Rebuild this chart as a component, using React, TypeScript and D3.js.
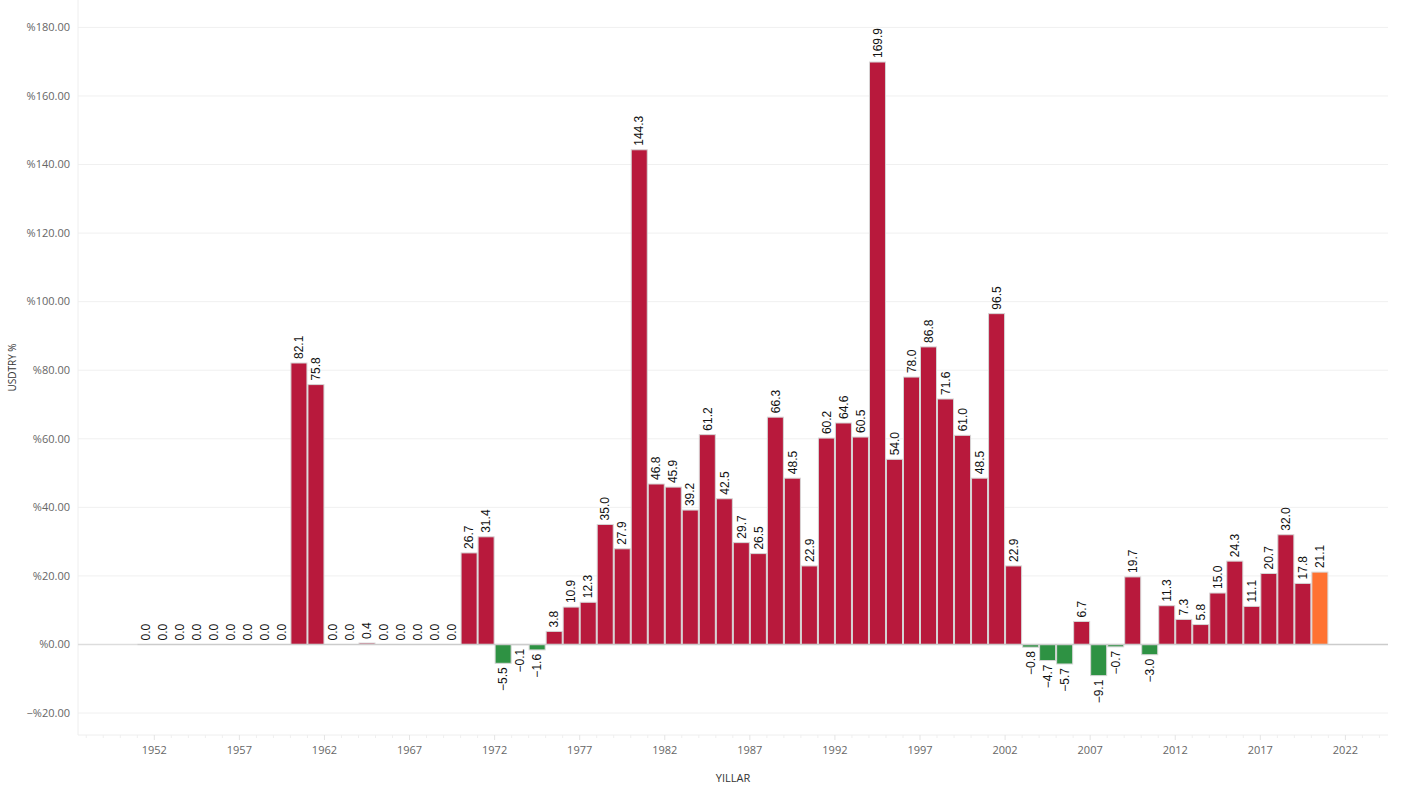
import React from "react";
import * as d3 from "d3";

const startYear = 1951;
const values: number[] = [
  0.0, 0.0, 0.0, 0.0, 0.0, 0.0, 0.0, 0.0, 0.0, // 1951-1959
  82.1, 75.8, // 1960-1961
  0.0, 0.0, 0.4, 0.0, 0.0, 0.0, 0.0, 0.0, // 1962-1969
  26.7, 31.4, -5.5, -0.1, -1.6, 3.8, 10.9, 12.3, 35.0, 27.9, // 1970-1979
  144.3, 46.8, 45.9, 39.2, 61.2, 42.5, 29.7, 26.5, 66.3, 48.5, // 1980-1989
  22.9, 60.2, 64.6, 60.5, 169.9, 54.0, 78.0, 86.8, 71.6, 61.0, // 1990-1999
  48.5, 96.5, 22.9, -0.8, -4.7, -5.7, 6.7, -9.1, -0.7, 19.7, // 2000-2009
  -3.0, 11.3, 7.3, 5.8, 15.0, 24.3, 11.1, 20.7, 32.0, 17.8, // 2010-2019
  21.1, // 2020
];
const years: number[] = values.map((_, i) => startYear + i);
const highlightYear = 2020;
const xTickYears: number[] = [1952, 1957, 1962, 1967, 1972, 1977, 1982, 1987, 1992, 1997, 2002, 2007, 2012, 2017, 2022];
const yTickValues: number[] = [-20, 0, 20, 40, 60, 80, 100, 120, 140, 160, 180];
const yAxisTitle = "USDTRY %";
const xAxisTitle = "YILLAR";

const W = 1406;
const H = 787;
const plotLeft = 78;
const plotRight = 1388;
const plotTop = 0;
const plotBottom = 735;

const RED = "#B8193C";
const GREEN = "#2E9243";
const ORANGE = "#FF7231";

export default function App() {
  const x = d3.scaleLinear().domain([1952, 2022]).range([154.3, 1345.4]);
  const y = d3.scaleLinear().domain([-20, 180]).range([713, 27.4]);
  const y0 = y(0);
  const minorYears = d3.range(1948, 2025);
  const fmtY = (v: number) => (v < 0 ? "\u2212%" + Math.abs(v).toFixed(2) : "%" + v.toFixed(2));
  const fmtV = (v: number) => (v < 0 ? "\u2212" + Math.abs(v).toFixed(1) : v.toFixed(1));

  return (
    <svg
      width={W}
      height={H}
      style={{ position: "absolute", left: 0, top: 0, display: "block", background: "#fff" }}
    >
      {/* grid */}
      {yTickValues.map((v) => (
        <line key={"g" + v} x1={plotLeft} x2={plotRight} y1={y(v)} y2={y(v)} stroke="#f0f0f0" strokeWidth={1} />
      ))}
      <line x1={plotLeft} x2={plotLeft} y1={plotTop} y2={plotBottom} stroke="#eeeeee" strokeWidth={1} />
      <line x1={plotLeft} x2={plotRight} y1={plotBottom} y2={plotBottom} stroke="#eeeeee" strokeWidth={1} />
      {/* minor ticks */}
      {minorYears.map((yr) => (
        <line key={"m" + yr} x1={x(yr)} x2={x(yr)} y1={plotBottom} y2={plotBottom + (xTickYears.includes(yr) ? 5 : 3)} stroke={xTickYears.includes(yr) ? "#e4e4e4" : "#efefef"} strokeWidth={1} />
      ))}
      {/* y tick labels */}
      {yTickValues.map((v) => (
        <text key={"yt" + v} x={70} y={y(v)} dy="0.35em" textAnchor="end" fontFamily="'Open Sans', sans-serif" fontSize={11} fill="#666">
          {fmtY(v)}
        </text>
      ))}
      {/* x tick labels */}
      {xTickYears.map((yr) => (
        <text key={"xt" + yr} x={x(yr)} y={754} textAnchor="middle" fontFamily="'Open Sans', sans-serif" fontSize={11} fill="#666">
          {yr}
        </text>
      ))}
      {/* axis titles */}
      <text transform={`translate(16, ${(plotTop + plotBottom) / 2}) rotate(-90)`} textAnchor="middle" fontFamily="'Open Sans', sans-serif" fontSize={10} fill="#333">
        {yAxisTitle}
      </text>
      <text x={733} y={782} textAnchor="middle" fontFamily="'Open Sans', sans-serif" fontSize={11} fontWeight={500} fill="#333">
        {xAxisTitle}
      </text>
      {/* bars */}
      {years.map((yr, i) => {
        const v = values[i];
        const x1 = x(yr);
        const x2 = x(yr + 1);
        const top = Math.min(y(v), y0);
        const h = Math.abs(y(v) - y0);
        const fill = yr === highlightYear ? ORANGE : v < 0 ? GREEN : RED;
        return (
          <rect key={"b" + yr} x={x1 + 0.5} y={top} width={x2 - x1 - 1} height={h} fill={fill} stroke="#d6d6d6" strokeWidth={1} />
        );
      })}
      {/* zero line */}
      <line x1={plotLeft} x2={x(startYear)} y1={y0} y2={y0} stroke="#dddddd" strokeWidth={1.5} />
      <line x1={x(startYear)} x2={plotRight} y1={y0} y2={y0} stroke="#cccccc" strokeWidth={1.5} />
      {/* value labels */}
      {years.map((yr, i) => {
        const v = values[i];
        const cx = (x(yr) + x(yr + 1)) / 2;
        const neg = v < 0;
        const ty = neg ? y(v) + 4 : y(v) - 4;
        return (
          <text
            key={"l" + yr}
            transform={`translate(${cx}, ${ty}) rotate(-90)`}
            dy="0.35em"
            textAnchor={neg ? "end" : "start"}
            fontFamily="'Liberation Sans', Arial, sans-serif"
            fontSize={12}
            fill="#111"
          >
            {fmtV(v)}
          </text>
        );
      })}
    </svg>
  );
}
